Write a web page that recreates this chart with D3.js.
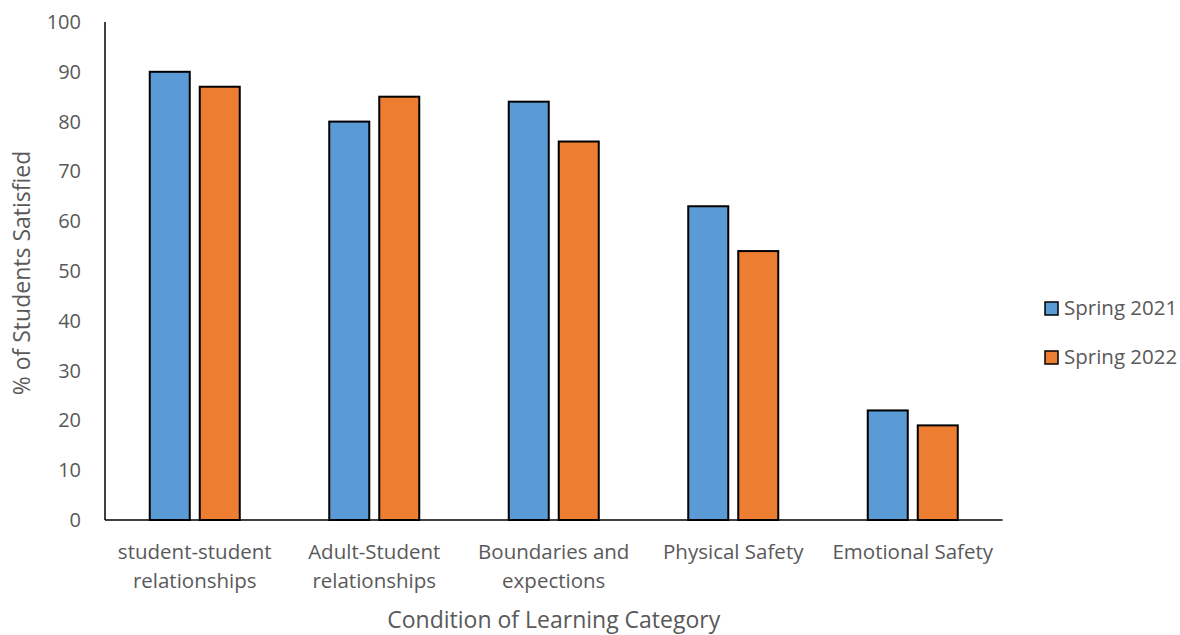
<!DOCTYPE html>
<html>
<head>
<meta charset="utf-8">
<script src="https://cdn.jsdelivr.net/npm/d3@7"></script>
<style>
  html, body { margin: 0; padding: 0; background: #fff; }
  svg text { font-family: "Open Sans", "Liberation Sans", sans-serif; fill: #595959; }
</style>
</head>
<body>
<svg id="chart" width="1180" height="635"></svg>
<script>
// Chart data
const categories = [
  ["student-student", "relationships"],
  ["Adult-Student", "relationships"],
  ["Boundaries and", "expections"],
  ["Physical Safety"],
  ["Emotional Safety"]
];
const seriesNames = ["Spring 2021", "Spring 2022"];
const spring2021 = [90, 80, 84, 63, 22];
const spring2022 = [87, 85, 76, 54, 19];
const yTicks = [0, 10, 20, 30, 40, 50, 60, 70, 80, 90, 100];
const colors = ["#5b9bd5", "#ed7d31"];

const svg = d3.select("#chart");
const margin = { left: 105, right: 1002.5, top: 22, bottom: 520 };

const x = d3.scaleBand()
  .domain(d3.range(categories.length))
  .range([margin.left, margin.right])
  .paddingInner(0).paddingOuter(0);

const xInner = d3.scaleBand()
  .domain(seriesNames)
  .range([x.bandwidth() / 2 - 45, x.bandwidth() / 2 + 45])
  .paddingInner(0.2).paddingOuter(0);

const y = d3.scaleLinear().domain([0, 100]).range([margin.bottom, margin.top]);

// Y tick labels (no tick marks)
const yAxis = svg.append("g")
  .attr("transform", `translate(${margin.left},0)`)
  .call(d3.axisLeft(y).tickValues(yTicks).tickSize(0).tickPadding(24));
yAxis.select(".domain").remove();
yAxis.selectAll("text")
  .style("font-size", "20px")
  .attr("fill", "#595959");

// Bars
const rows = categories.map((c, i) => ({ i, values: [spring2021[i], spring2022[i]] }));
const groups = svg.append("g").selectAll("g")
  .data(rows).join("g")
  .attr("transform", d => `translate(${x(d.i)},0)`);

groups.selectAll("rect")
  .data(d => d.values.map((v, k) => ({ v, k })))
  .join("rect")
  .attr("x", d => xInner(seriesNames[d.k]))
  .attr("width", xInner.bandwidth())
  .attr("y", d => y(d.v))
  .attr("height", d => y(0) - y(d.v))
  .attr("fill", d => colors[d.k])
  .attr("stroke", "#000")
  .attr("stroke-width", 2);

// Axis lines
svg.append("line")
  .attr("x1", margin.left).attr("x2", margin.left)
  .attr("y1", y(100)).attr("y2", y(0))
  .attr("stroke", "#000").attr("stroke-width", 1.5);
svg.append("line")
  .attr("x1", margin.left).attr("x2", margin.right)
  .attr("y1", y(0)).attr("y2", y(0))
  .attr("stroke", "#000").attr("stroke-width", 1.5);

// Category labels
const catLabels = svg.append("g").selectAll("text")
  .data(categories.map((c, i) => ({ c, i })))
  .join("text")
  .attr("x", d => x(d.i) + x.bandwidth() / 2)
  .attr("y", 559)
  .attr("text-anchor", "middle")
  .style("font-size", "20.5px");
catLabels.selectAll("tspan")
  .data(d => d.c.map((line, j) => ({ line, j, cx: x(d.i) + x.bandwidth() / 2 })))
  .join("tspan")
  .attr("x", d => d.cx)
  .attr("dy", d => d.j === 0 ? 0 : 29)
  .text(d => d.line);

// Axis titles
svg.append("text")
  .attr("x", (margin.left + margin.right) / 2)
  .attr("y", 628)
  .attr("text-anchor", "middle")
  .style("font-size", "23px")
  .text("Condition of Learning Category");

svg.append("text")
  .attr("transform", `translate(30,${(margin.top + margin.bottom) / 2 + 2}) rotate(-90)`)
  .attr("text-anchor", "middle")
  .style("font-size", "23px")
  .text("% of Students Satisfied");

// Legend
const legend = svg.append("g").selectAll("g")
  .data(seriesNames)
  .join("g")
  .attr("transform", (d, i) => `translate(1045,${302 + i * 49})`);
legend.append("rect")
  .attr("width", 13).attr("height", 13)
  .attr("fill", (d, i) => colors[i])
  .attr("stroke", "#000").attr("stroke-width", 1.5);
legend.append("text")
  .attr("x", 19).attr("y", 13)
  .style("font-size", "20.5px")
  .text(d => d);
</script>
</body>
</html>
